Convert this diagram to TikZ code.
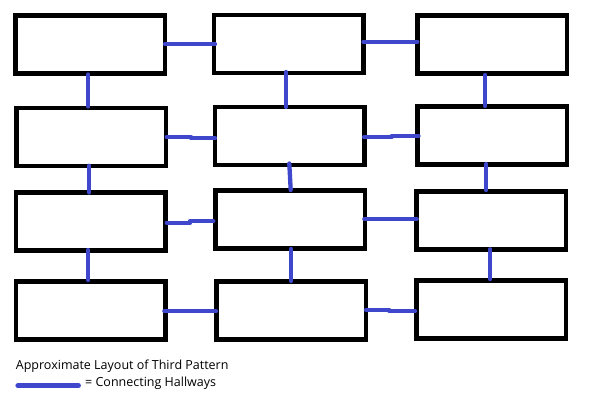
\documentclass[tikz,border=0pt]{standalone}
\usepackage{fontspec}
\setmainfont{Open Sans}
\definecolor{hall}{HTML}{3F48CC}
\begin{document}
\begin{tikzpicture}[x=1pt,y=-1pt,
  room/.style={draw=black,line width=4.5pt,rectangle,inner sep=0pt,outer sep=0pt,minimum width=149.5pt,minimum height=58pt},
  hallway/.style={draw=hall,line width=4.3pt,line cap=round},
  legendtext/.style={inner sep=0pt,anchor=base west,font=\fontsize{12.5}{14}\selectfont}]
\useasboundingbox[fill=white] (0,0) rectangle (600,413);
% rooms
\node[room] (a1) at (90,44.3) {};
\node[room] (b1) at (288.9,44.2) {};
\node[room] (c1) at (492.2,44.3) {};
\node[room] (a2) at (91,137.2) {};
\node[room] (b2) at (289.7,136.2) {};
\node[room] (c2) at (492,135.5) {};
\node[room] (a3) at (90.9,221.4) {};
\node[room] (b3) at (290,219.5) {};
\node[room] (c3) at (491,220.5) {};
\node[room] (a4) at (90.9,310.5) {};
\node[room] (b4) at (291.2,310.5) {};
\node[room] (c4) at (491,309.5) {};
% hallways, row 1
\draw[hallway] (165,44.3) -- (215,44.3);
\draw[hallway] (363.5,41.7) -- (417.3,41.7);
% verticals 1-2
\draw[hallway] (88.3,74.5) -- (88.3,106.5);
\draw[hallway] (286,72) -- (286,107);
\draw[hallway] (485.3,75) -- (485.3,106);
% row 2
\draw[hallway] (166.7,137) -- (191,137);
\draw[hallway] (191,138.3) -- (215,138.3);
\draw[hallway] (364,137.3) -- (391.7,137.3);
\draw[hallway] (391.7,136) -- (418.5,136);
% verticals 2-3
\draw[hallway] (89.3,165.7) -- (89.3,192.5);
\draw[hallway] (289.3,163.5) -- (290.7,190);
\draw[hallway] (486.3,164) -- (486.3,190);
% row 3
\draw[hallway] (166.7,222.7) -- (190,222.7);
\draw[hallway] (190,221.3) -- (213.3,221.3);
\draw[hallway] (364.3,219.3) -- (416.7,219.3);
% verticals 3-4
\draw[hallway] (88.3,250) -- (88.3,280);
\draw[hallway] (291,249) -- (291,281);
\draw[hallway] (490.3,249.3) -- (490.3,279);
% row 4
\draw[hallway] (164.3,311.3) -- (216,311.3);
\draw[hallway] (366,310) -- (389.3,310);
\draw[hallway] (389.3,311.3) -- (415,311.3);
% legend
\node[legendtext] (title) at (15.7,369) {Approximate Layout of Third Pattern};
\coordinate (ls) at (17.8,385.7);
\coordinate (le) at (78.5,385.7);
\draw[hallway,line width=4.8pt] (ls) -- (le);
\node[legendtext] (legend) at (85,386.7) {= Connecting Hallways};
\end{tikzpicture}
\end{document}
